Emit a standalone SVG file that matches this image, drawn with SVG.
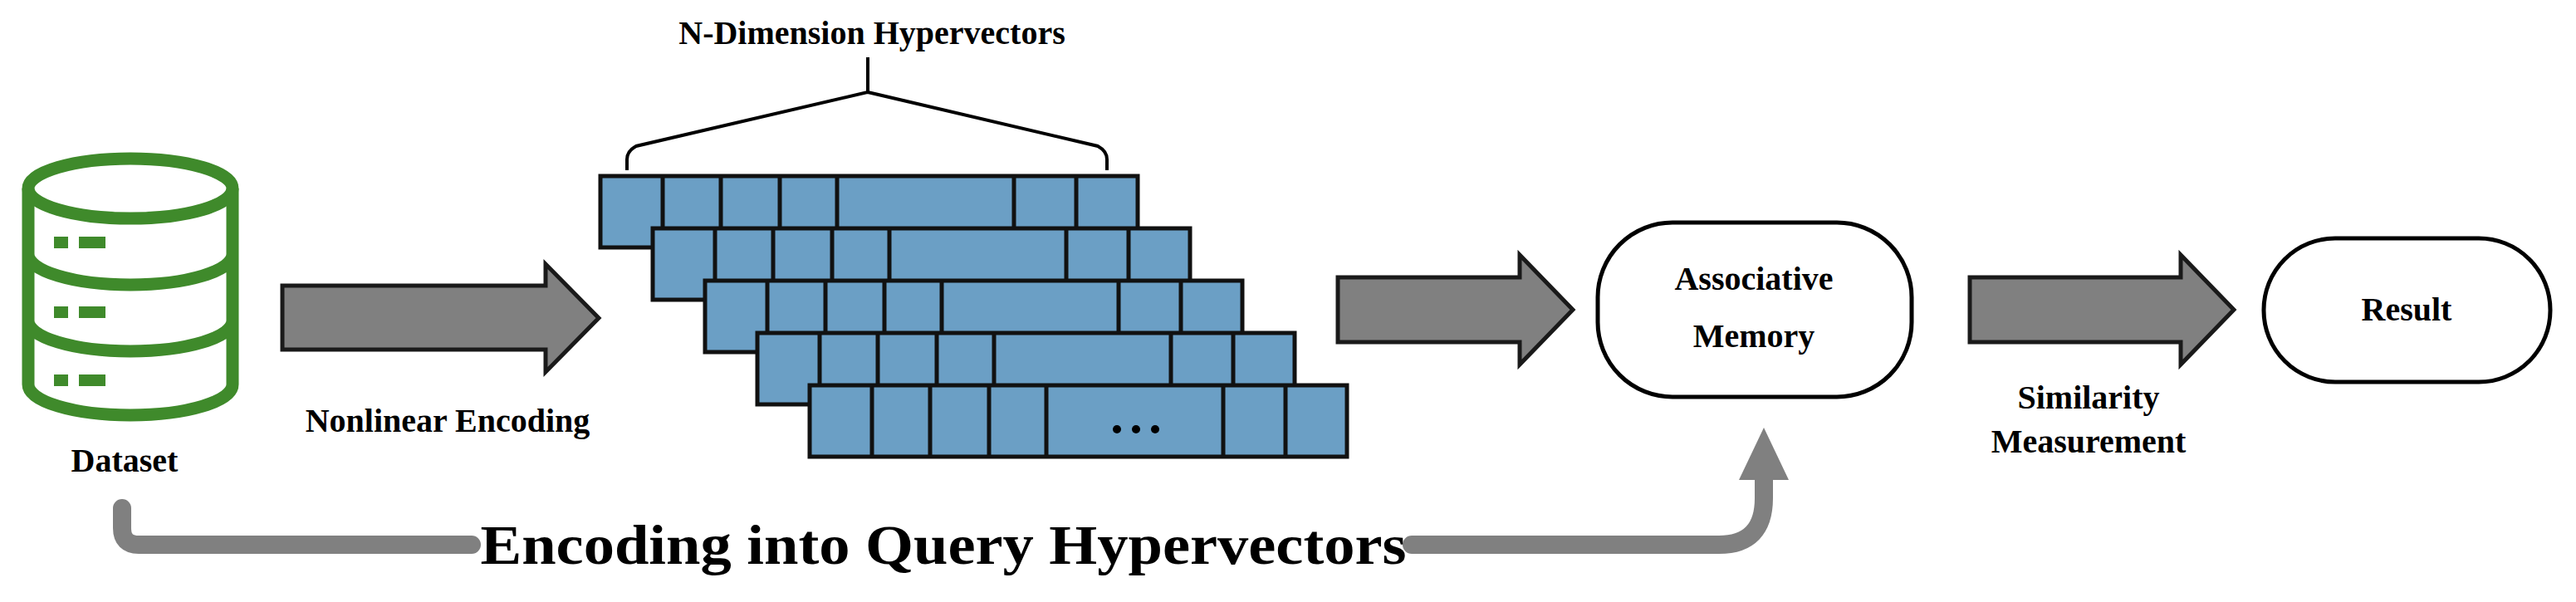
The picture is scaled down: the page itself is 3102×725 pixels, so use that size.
<svg xmlns="http://www.w3.org/2000/svg" width="3102" height="725" viewBox="0 0 3102 725">
<defs>
<style>
text{font-family:"Liberation Serif","Times New Roman",serif;font-weight:bold;fill:#000}
.t{font-size:40px}
.db{fill:none;stroke:#3f8a2b;stroke-width:15}
.dash{fill:#3f8a2b}
.ar{fill:#808080;stroke:#1a1a1a;stroke-width:5}
.box{fill:#fff;stroke:#000;stroke-width:5}
.cell{fill:#6b9fc5;stroke:#111;stroke-width:5}
.conn{fill:none;stroke:#808080;stroke-width:22;stroke-linecap:round;stroke-linejoin:round}
</style>
<g id="vrow">
<rect class="cell" x="0" y="0" width="647" height="86"/>
<path d="M75 0V86M145 0V86M216 0V86M285 0V86M498 0V86M573 0V86" stroke="#111" stroke-width="5"/>
</g>
</defs>
<g id="dataset">
<ellipse class="db" cx="157" cy="227" rx="123" ry="36"/>
<path class="db" d="M34 227V463A123 37 0 0 0 280 463V227M34 306A123 37 0 0 0 280 306M34 386A123 37 0 0 0 280 386"/>
<rect class="dash" x="65" y="285" width="17" height="14"/><rect class="dash" x="95" y="285" width="32" height="14"/>
<rect class="dash" x="65" y="369" width="17" height="14"/><rect class="dash" x="95" y="369" width="32" height="14"/>
<rect class="dash" x="65" y="451" width="17" height="14"/><rect class="dash" x="95" y="451" width="32" height="14"/>
<text class="t" x="150" y="568" text-anchor="middle">Dataset</text>
</g>
<g id="hypervectors">
<text x="1050" y="53" font-size="40" text-anchor="middle">N-Dimension Hypervectors</text>
<path d="M1045 69V111L766 176Q755 182 755 192V205M1045 111L1322 176Q1333 182 1333 192V205" fill="none" stroke="#000" stroke-width="4"/>
<use href="#vrow" x="723" y="212"/>
<use href="#vrow" x="786" y="275"/>
<use href="#vrow" x="849" y="338"/>
<use href="#vrow" x="912" y="401"/>
<use href="#vrow" x="975" y="464"/>
<circle cx="1345" cy="517" r="5"/><circle cx="1368" cy="517" r="5"/><circle cx="1391" cy="517" r="5"/>
</g>
<g id="assoc">
<rect class="box" x="1924" y="268" width="378" height="210" rx="90"/>
<text class="t" x="2112" y="349" text-anchor="middle">Associative</text>
<text class="t" x="2112" y="418" text-anchor="middle">Memory</text>
</g>
<g id="result">
<rect class="box" x="2726" y="287" width="345" height="173" rx="86"/>
<text class="t" x="2898" y="386" text-anchor="middle">Result</text>
</g>
<g id="connectors">
<path class="ar" d="M340 344H657V318L721 383L657 448V421H340Z"/>
<text class="t" x="539" y="520" text-anchor="middle">Nonlinear Encoding</text>
<path class="ar" d="M1611 334H1830V307L1894 373L1830 439V412H1611Z"/>
<path class="ar" d="M2372 334H2626V307L2690 373L2626 439V412H2372Z"/>
<text class="t" x="2515" y="492" text-anchor="middle">Similarity</text>
<text class="t" x="2515" y="545" text-anchor="middle">Measurement</text>
<path class="conn" d="M147 612V636Q147 656 167 656H568"/>
<path class="conn" d="M1700 656H2070Q2124 656 2124 600V570"/>
<path d="M2094 578L2124 515L2154 578Z" fill="#808080"/>
<text x="1136" y="679" font-size="68" text-anchor="middle" textLength="1115" lengthAdjust="spacingAndGlyphs">Encoding into Query Hypervectors</text>
</g>
</svg>
